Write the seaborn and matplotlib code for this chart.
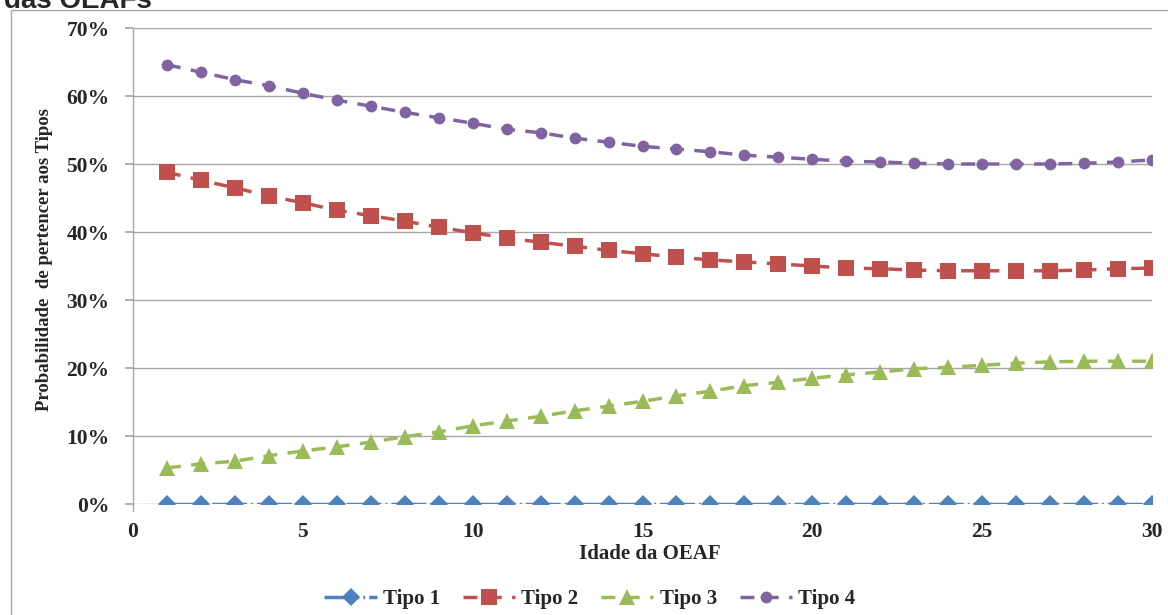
import numpy as np
import pandas as pd
import seaborn as sns
import matplotlib.pyplot as plt
from matplotlib.patches import Rectangle

# ages of the OEAF (x axis)
idade = list(range(1, 31))

# probability of belonging to each type (%)
tipo1 = [0.0] * 30
tipo2 = [48.8, 47.6, 46.5, 45.3, 44.3, 43.2, 42.4, 41.6, 40.7, 39.9,
         39.1, 38.5, 37.9, 37.3, 36.8, 36.3, 35.9, 35.6, 35.3, 35.0,
         34.7, 34.6, 34.4, 34.3, 34.3, 34.3, 34.3, 34.4, 34.6, 34.7]
tipo3 = [5.3, 5.9, 6.3, 7.1, 7.8, 8.4, 9.1, 9.9, 10.6, 11.5,
         12.2, 12.9, 13.7, 14.4, 15.1, 15.9, 16.6, 17.4, 17.9, 18.5,
         19.0, 19.4, 19.9, 20.1, 20.4, 20.7, 20.9, 21.0, 21.0, 21.0]
tipo4 = [64.6, 63.5, 62.4, 61.5, 60.4, 59.4, 58.5, 57.6, 56.8, 56.0,
         55.1, 54.6, 53.8, 53.2, 52.6, 52.2, 51.8, 51.3, 51.0, 50.7,
         50.4, 50.3, 50.1, 50.0, 50.0, 50.0, 50.0, 50.1, 50.3, 50.6]

tipos = ["Tipo 1", "Tipo 2", "Tipo 3", "Tipo 4"]
series = [tipo1, tipo2, tipo3, tipo4]

df = pd.concat([
    pd.DataFrame({"Idade": idade, "Prob": np.array(v) / 100.0, "Tipo": t})
    for t, v in zip(tipos, series)
], ignore_index=True)

sns.set_theme(style="white")
plt.rcParams['font.family'] = ['Liberation Serif', 'DejaVu Serif']
plt.rcParams['font.weight'] = 'bold'

palette = {"Tipo 1": "#4F81BD", "Tipo 2": "#C0504D",
           "Tipo 3": "#9BBB59", "Tipo 4": "#8064A2"}
markers = {"Tipo 1": "D", "Tipo 2": "s", "Tipo 3": "^", "Tipo 4": "o"}
dashes = {"Tipo 1": (10, 1.2, 0.5, 1.2), "Tipo 2": (4, 3),
          "Tipo 3": (4, 3), "Tipo 4": (4, 3)}
msize = {"Tipo 1": 9.5, "Tipo 2": 11, "Tipo 3": 12, "Tipo 4": 8.5}

fig = plt.figure(figsize=(11.68, 6.15), dpi=100)
ax = fig.add_axes([133 / 1168, 1 - 504 / 615, 1019 / 1168, 476 / 615])

for t in tipos:
    sns.lineplot(data=df[df["Tipo"] == t], x="Idade", y="Prob", ax=ax,
                 color=palette[t], marker=markers[t], dashes=dashes[t],
                 markersize=msize[t], markeredgewidth=0, linewidth=2.5,
                 label=t, zorder=3)

ax.set_xlim(0, 30)
ax.set_ylim(0, 0.70)
ax.set_xticks([0, 5, 10, 15, 20, 25, 30])
ax.set_yticks(np.arange(0, 0.71, 0.1))
ax.set_yticklabels([f"{int(round(v * 100))}%" for v in np.arange(0, 0.71, 0.1)])
ax.yaxis.grid(True, color="#a6a6a6", linewidth=1.0)
ax.xaxis.grid(False)
for s in ["top", "right", "bottom"]:
    ax.spines[s].set_visible(False)
ax.spines["left"].set_color("#a6a6a6")
ax.spines["left"].set_linewidth(1.0)
ax.spines["left"].set_bounds(-0.01, 0.70)
ax.spines["left"].set_clip_on(False)

ax.tick_params(axis="y", left=True, length=6, color="#a6a6a6", pad=11,
               labelsize=15.5)
ax.tick_params(axis="x", bottom=False, length=0, pad=13, labelsize=15.5)
for lab in ax.get_xticklabels() + ax.get_yticklabels():
    lab.set_fontweight("bold")

ax.set_xlabel("Idade da OEAF", fontsize=15, fontweight="bold")
ax.set_ylabel("Probabilidade  de pertencer aos Tipos", fontsize=13.5,
              fontweight="bold")
ax.xaxis.set_label_coords(0.507, -0.085)
ax.yaxis.set_label_coords(-0.0785, 0.513)

ax.legend_.remove()
handles, labels = ax.get_legend_handles_labels()
fig.legend(handles, labels, loc="center", ncol=4, frameon=False,
           bbox_to_anchor=(0.505, 1 - 599 / 615), handlelength=2.5,
           columnspacing=1.1, handletextpad=0.3,
           prop={"family": "Liberation Serif", "weight": "bold", "size": 15})

# chart border
fig.add_artist(Rectangle((11 / 1168, -0.05), 1.2, 1 - 10 / 615 + 0.05,
                         transform=fig.transFigure, fill=False,
                         edgecolor="#a6a6a6", linewidth=1.0))

# truncated title from the page above
fig.text(4 / 1168, 1 - 8 / 615, "das OEAFs", ha="left", va="baseline",
         fontsize=20, fontweight="bold",
         family=["Liberation Sans", "DejaVu Sans"])

fig.savefig("out.png", dpi=100)
